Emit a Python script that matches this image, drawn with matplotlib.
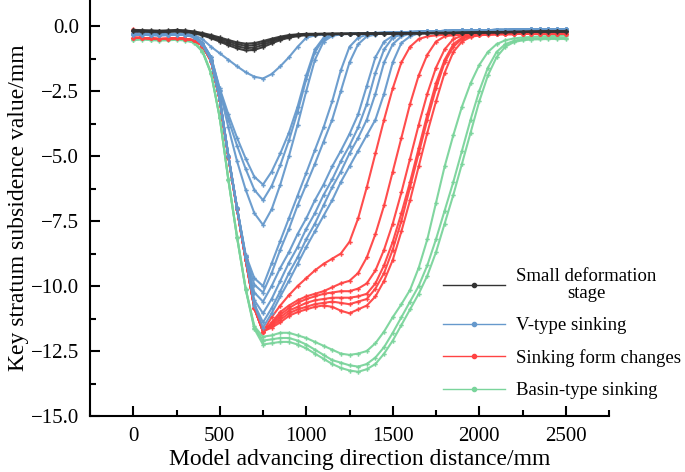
import numpy as np
import matplotlib
matplotlib.use("Agg")
from matplotlib import pyplot as plt
from matplotlib.lines import Line2D
from matplotlib.ticker import MultipleLocator

# distance along the model, mm (one reading every 50 mm)
dist = np.arange(0, 2501, 50)

# small deformation stage
black_1 = [-0.15, -0.16, -0.17, -0.18, -0.17, -0.15, -0.17, -0.21, -0.27, -0.35,
           -0.44, -0.54, -0.63, -0.68, -0.66, -0.58, -0.49, -0.41, -0.35, -0.32,
           -0.30, -0.30, -0.30, -0.29, -0.29, -0.29, -0.29, -0.28, -0.28, -0.28,
           -0.28, -0.28, -0.27, -0.27, -0.27, -0.26, -0.26, -0.26, -0.25, -0.25,
           -0.24, -0.24, -0.23, -0.23, -0.22, -0.22, -0.21, -0.21, -0.20, -0.20,
           -0.20]
black_2 = [-0.17, -0.18, -0.19, -0.20, -0.19, -0.17, -0.19, -0.23, -0.30, -0.39,
           -0.49, -0.60, -0.70, -0.76, -0.74, -0.65, -0.54, -0.45, -0.38, -0.34,
           -0.31, -0.31, -0.30, -0.30, -0.30, -0.30, -0.29, -0.29, -0.29, -0.29,
           -0.29, -0.28, -0.28, -0.28, -0.27, -0.27, -0.27, -0.26, -0.26, -0.25,
           -0.25, -0.24, -0.24, -0.23, -0.23, -0.22, -0.22, -0.21, -0.21, -0.21,
           -0.21]
black_3 = [-0.19, -0.20, -0.21, -0.22, -0.21, -0.19, -0.21, -0.25, -0.33, -0.43,
           -0.55, -0.67, -0.78, -0.85, -0.83, -0.73, -0.60, -0.49, -0.41, -0.36,
           -0.33, -0.32, -0.31, -0.31, -0.30, -0.30, -0.30, -0.30, -0.29, -0.29,
           -0.29, -0.29, -0.28, -0.28, -0.28, -0.27, -0.27, -0.27, -0.26, -0.26,
           -0.25, -0.25, -0.24, -0.24, -0.23, -0.23, -0.22, -0.22, -0.22, -0.21,
           -0.21]
black_4 = [-0.21, -0.22, -0.23, -0.24, -0.23, -0.21, -0.23, -0.28, -0.36, -0.47,
           -0.60, -0.74, -0.86, -0.94, -0.92, -0.81, -0.67, -0.54, -0.45, -0.39,
           -0.35, -0.33, -0.32, -0.32, -0.31, -0.31, -0.31, -0.30, -0.30, -0.30,
           -0.30, -0.29, -0.29, -0.29, -0.28, -0.28, -0.28, -0.27, -0.27, -0.26,
           -0.26, -0.25, -0.25, -0.24, -0.24, -0.23, -0.23, -0.22, -0.22, -0.22,
           -0.22]

# V-type sinking
blue_1 = [-0.28, -0.29, -0.31, -0.32, -0.31, -0.29, -0.31, -0.35, -0.50, -0.80,
          -1.05, -1.30, -1.55, -1.78, -1.95, -2.02, -1.85, -1.55, -1.20, -0.80,
          -0.45, -0.36, -0.33, -0.32, -0.31, -0.30, -0.29, -0.28, -0.27, -0.26,
          -0.25, -0.24, -0.23, -0.22, -0.21, -0.20, -0.19, -0.18, -0.17, -0.17,
          -0.16, -0.16, -0.15, -0.15, -0.14, -0.14, -0.13, -0.13, -0.12, -0.12,
          -0.12]
blue_2 = [-0.30, -0.31, -0.32, -0.33, -0.32, -0.30, -0.32, -0.38, -0.65, -1.20,
          -2.40, -3.40, -4.30, -5.10, -5.80, -6.10, -5.60, -4.90, -4.10, -3.10,
          -1.90, -0.90, -0.45, -0.34, -0.31, -0.30, -0.29, -0.28, -0.27, -0.26,
          -0.25, -0.24, -0.23, -0.22, -0.21, -0.20, -0.19, -0.18, -0.17, -0.17,
          -0.16, -0.16, -0.15, -0.15, -0.14, -0.14, -0.13, -0.13, -0.12, -0.12,
          -0.12]
blue_3 = [-0.30, -0.31, -0.32, -0.33, -0.32, -0.30, -0.32, -0.38, -0.65, -1.20,
          -2.45, -3.60, -4.60, -5.50, -6.30, -6.70, -6.15, -5.35, -4.40, -3.30,
          -2.05, -1.00, -0.50, -0.35, -0.31, -0.30, -0.29, -0.28, -0.27, -0.26,
          -0.25, -0.24, -0.23, -0.22, -0.21, -0.20, -0.19, -0.18, -0.17, -0.17,
          -0.16, -0.16, -0.15, -0.15, -0.14, -0.14, -0.13, -0.13, -0.12, -0.12,
          -0.12]
blue_4 = [-0.30, -0.31, -0.32, -0.33, -0.32, -0.30, -0.32, -0.38, -0.65, -1.20,
          -2.50, -3.90, -5.20, -6.30, -7.20, -7.65, -7.05, -6.10, -5.00, -3.80,
          -2.50, -1.30, -0.60, -0.38, -0.32, -0.30, -0.29, -0.28, -0.27, -0.26,
          -0.25, -0.24, -0.23, -0.22, -0.21, -0.20, -0.19, -0.18, -0.17, -0.17,
          -0.16, -0.16, -0.15, -0.15, -0.14, -0.14, -0.13, -0.13, -0.12, -0.12,
          -0.12]
blue_5 = [-0.31, -0.32, -0.33, -0.34, -0.33, -0.31, -0.33, -0.40, -0.70, -1.30,
          -2.80, -5.00, -7.00, -8.80, -9.70, -10.00, -9.13, -8.26, -7.39, -6.52,
          -5.65, -4.77, -3.90, -2.90, -1.70, -0.80, -0.45, -0.33, -0.28, -0.26,
          -0.25, -0.24, -0.23, -0.22, -0.21, -0.20, -0.19, -0.18, -0.17, -0.17,
          -0.16, -0.16, -0.15, -0.15, -0.14, -0.14, -0.13, -0.13, -0.12, -0.12,
          -0.12]
blue_6 = [-0.31, -0.32, -0.33, -0.34, -0.33, -0.31, -0.33, -0.40, -0.70, -1.30,
          -2.80, -5.00, -7.00, -8.85, -9.95, -10.25, -9.50, -8.60, -7.80, -6.90,
          -6.10, -5.30, -4.45, -3.60, -2.50, -1.40, -0.70, -0.40, -0.33, -0.27,
          -0.25, -0.24, -0.23, -0.22, -0.21, -0.20, -0.19, -0.18, -0.17, -0.17,
          -0.16, -0.16, -0.15, -0.15, -0.14, -0.14, -0.13, -0.13, -0.12, -0.12,
          -0.12]
blue_7 = [-0.32, -0.33, -0.34, -0.35, -0.34, -0.32, -0.34, -0.41, -0.70, -1.30,
          -2.80, -5.00, -7.00, -8.90, -10.25, -10.60, -10.00, -9.30, -8.70, -8.00,
          -7.40, -6.70, -6.10, -5.40, -4.80, -4.15, -3.40, -2.30, -1.20, -0.60,
          -0.38, -0.30, -0.26, -0.23, -0.21, -0.20, -0.19, -0.18, -0.17, -0.17,
          -0.16, -0.16, -0.15, -0.15, -0.14, -0.14, -0.13, -0.13, -0.12, -0.12,
          -0.12]
blue_8 = [-0.32, -0.33, -0.34, -0.35, -0.34, -0.32, -0.34, -0.41, -0.70, -1.30,
          -2.80, -5.00, -7.00, -8.90, -10.55, -11.05, -10.50, -9.80, -9.10, -8.50,
          -7.80, -7.20, -6.50, -5.90, -5.20, -4.60, -3.90, -3.00, -1.80, -0.90,
          -0.45, -0.33, -0.27, -0.23, -0.21, -0.20, -0.19, -0.18, -0.17, -0.17,
          -0.16, -0.16, -0.15, -0.15, -0.14, -0.14, -0.13, -0.13, -0.12, -0.12,
          -0.12]
blue_9 = [-0.33, -0.34, -0.35, -0.36, -0.35, -0.33, -0.35, -0.42, -0.70, -1.30,
          -2.80, -5.00, -7.00, -8.90, -10.70, -11.40, -10.85, -10.20, -9.50, -8.90,
          -8.20, -7.60, -6.90, -6.20, -5.60, -4.90, -4.30, -3.60, -2.60, -1.40,
          -0.70, -0.40, -0.29, -0.24, -0.21, -0.20, -0.19, -0.18, -0.17, -0.17,
          -0.16, -0.16, -0.15, -0.15, -0.14, -0.14, -0.13, -0.13, -0.12, -0.12,
          -0.12]
blue_10 = [-0.33, -0.34, -0.35, -0.36, -0.35, -0.33, -0.35, -0.42, -0.70, -1.30,
           -2.80, -5.00, -7.00, -8.90, -10.75, -11.60, -11.05, -10.40, -9.80, -9.15,
           -8.50, -7.90, -7.30, -6.70, -6.00, -5.40, -4.80, -4.20, -3.60, -2.60,
           -1.40, -0.65, -0.40, -0.28, -0.22, -0.20, -0.19, -0.18, -0.17, -0.17,
           -0.16, -0.16, -0.15, -0.15, -0.14, -0.14, -0.13, -0.13, -0.12, -0.12,
           -0.12]

# sinking form changes
red_1 = [-0.12, -0.46, -0.48, -0.50, -0.49, -0.47, -0.49, -0.55, -0.75, -1.35,
         -2.85, -5.05, -7.05, -9.00, -10.85, -11.75, -11.20, -10.75, -10.35, -10.00,
         -9.70, -9.40, -9.15, -8.95, -8.75, -8.30, -7.40, -6.20, -4.90, -3.60,
         -2.40, -1.40, -0.80, -0.50, -0.40, -0.36, -0.34, -0.34, -0.33, -0.33,
         -0.32, -0.32, -0.31, -0.31, -0.31, -0.30, -0.30, -0.30, -0.30, -0.30,
         -0.30]
red_2 = [-0.45, -0.46, -0.48, -0.50, -0.49, -0.47, -0.49, -0.55, -0.75, -1.35,
         -2.85, -5.05, -7.05, -9.00, -10.85, -11.75, -11.40, -11.00, -10.75, -10.55,
         -10.40, -10.30, -10.20, -10.05, -9.90, -9.80, -9.50, -8.90, -8.00, -6.90,
         -5.60, -4.30, -3.00, -1.90, -1.10, -0.60, -0.40, -0.35, -0.34, -0.33,
         -0.32, -0.32, -0.31, -0.31, -0.31, -0.30, -0.30, -0.30, -0.30, -0.30,
         -0.30]
red_3 = [-0.45, -0.46, -0.48, -0.50, -0.49, -0.47, -0.49, -0.55, -0.75, -1.35,
         -2.85, -5.05, -7.05, -9.00, -10.85, -11.75, -11.45, -11.10, -10.85, -10.65,
         -10.50, -10.40, -10.30, -10.25, -10.20, -10.20, -10.10, -9.90, -9.40, -8.60,
         -7.60, -6.40, -5.10, -3.80, -2.60, -1.60, -0.90, -0.50, -0.38, -0.35,
         -0.33, -0.32, -0.31, -0.31, -0.31, -0.30, -0.30, -0.30, -0.30, -0.30,
         -0.30]
red_4 = [-0.45, -0.46, -0.48, -0.50, -0.49, -0.47, -0.49, -0.55, -0.75, -1.35,
         -2.85, -5.05, -7.05, -9.00, -10.85, -11.75, -11.50, -11.20, -10.95, -10.80,
         -10.65, -10.55, -10.50, -10.45, -10.45, -10.45, -10.40, -10.30, -9.90, -9.20,
         -8.30, -7.20, -6.00, -4.70, -3.40, -2.20, -1.30, -0.70, -0.45, -0.37,
         -0.34, -0.32, -0.31, -0.31, -0.31, -0.30, -0.30, -0.30, -0.30, -0.30,
         -0.30]
red_5 = [-0.45, -0.46, -0.48, -0.50, -0.49, -0.47, -0.49, -0.55, -0.75, -1.35,
         -2.85, -5.05, -7.05, -9.00, -10.85, -11.75, -11.55, -11.30, -11.05, -10.90,
         -10.80, -10.70, -10.65, -10.60, -10.65, -10.70, -10.60, -10.50, -10.10, -9.50,
         -8.60, -7.50, -6.20, -4.90, -3.60, -2.40, -1.40, -0.80, -0.50, -0.38,
         -0.34, -0.32, -0.31, -0.31, -0.31, -0.30, -0.30, -0.30, -0.30, -0.30,
         -0.30]
red_6 = [-0.45, -0.46, -0.48, -0.50, -0.49, -0.47, -0.49, -0.55, -0.75, -1.35,
         -2.85, -5.05, -7.05, -9.00, -10.85, -11.75, -11.60, -11.40, -11.15, -11.00,
         -10.90, -10.80, -10.75, -10.80, -10.95, -11.05, -10.90, -10.75, -10.40, -9.80,
         -9.00, -7.90, -6.70, -5.40, -4.10, -2.90, -1.80, -1.00, -0.60, -0.42,
         -0.36, -0.33, -0.32, -0.31, -0.31, -0.30, -0.30, -0.30, -0.30, -0.30,
         -0.30]

# basin-type sinking
green_1 = [-0.50, -0.48, -0.50, -0.52, -0.51, -0.49, -0.52, -0.60, -0.95, -1.80,
           -3.50, -5.90, -8.10, -10.10, -11.55, -11.95, -11.90, -11.80, -11.80, -11.90,
           -12.00, -12.15, -12.30, -12.45, -12.60, -12.65, -12.60, -12.50, -12.20, -11.75,
           -11.20, -10.70, -10.15, -9.30, -8.20, -6.80, -5.40, -4.20, -3.10, -2.20,
           -1.50, -1.00, -0.70, -0.55, -0.48, -0.44, -0.42, -0.40, -0.39, -0.38,
           -0.37]
green_2 = [-0.52, -0.50, -0.52, -0.54, -0.53, -0.51, -0.54, -0.62, -0.97, -1.82,
           -3.52, -5.92, -8.12, -10.12, -11.60, -12.10, -12.05, -12.00, -12.00, -12.10,
           -12.25, -12.45, -12.65, -12.85, -12.95, -13.05, -13.10, -13.00, -12.75, -12.35,
           -11.80, -11.20, -10.60, -10.00, -9.20, -8.20, -7.10, -6.00, -4.80, -3.60,
           -2.50, -1.60, -1.00, -0.70, -0.57, -0.50, -0.48, -0.47, -0.46, -0.46,
           -0.45]
green_3 = [-0.54, -0.52, -0.54, -0.56, -0.55, -0.53, -0.56, -0.64, -0.99, -1.84,
           -3.54, -5.94, -8.14, -10.14, -11.65, -12.25, -12.20, -12.15, -12.15, -12.25,
           -12.40, -12.60, -12.80, -13.00, -13.15, -13.25, -13.30, -13.20, -13.00, -12.60,
           -12.10, -11.50, -10.90, -10.30, -9.60, -8.70, -7.60, -6.50, -5.30, -4.10,
           -2.90, -1.90, -1.20, -0.80, -0.62, -0.55, -0.52, -0.51, -0.50, -0.50,
           -0.50]

groups = [
    ("Small deformation\nstage", "#333333", [black_1, black_2, black_3, black_4]),
    ("V-type sinking", "#6699CC", [blue_1, blue_2, blue_3, blue_4, blue_5,
                                   blue_6, blue_7, blue_8, blue_9, blue_10]),
    ("Sinking form changes", "#FF4343", [red_1, red_2, red_3, red_4, red_5, red_6]),
    ("Basin-type sinking", "#7AD49B", [green_1, green_2, green_3]),
]

plt.rcParams['font.family'] = ['Liberation Serif', 'DejaVu Serif']

fig = plt.figure(figsize=(6.85, 4.72), dpi=100)
ax = fig.add_axes([90 / 685, 56 / 472, 519 / 685, 416 / 472])

# green underneath, black on top
for label, color, curves in reversed(groups):
    for y in curves:
        ax.plot(dist, y, color=color, lw=1.5, marker='P', ms=3.2,
                mew=0, alpha=0.95)

ax.set_xlim(-250, 2750)
ax.set_ylim(-15, 1.0)
ax.xaxis.set_major_locator(MultipleLocator(500))
ax.xaxis.set_minor_locator(MultipleLocator(250))
ax.yaxis.set_major_locator(MultipleLocator(2.5))
ax.yaxis.set_minor_locator(MultipleLocator(1.25))
ax.yaxis.set_major_formatter(lambda v, p: f"{v:.1f}".replace("-", "\u2212"))

for s in ['top', 'right']:
    ax.spines[s].set_visible(False)
for s in ['left', 'bottom']:
    ax.spines[s].set_linewidth(1.5)

ax.tick_params(which='major', direction='in', length=7, width=1.5, labelsize=15)
ax.tick_params(which='minor', direction='in', length=4, width=1.5)
ax.tick_params(axis='y', pad=8)
ax.tick_params(axis='x', pad=8)

ax.set_xlabel("Model advancing direction distance/mm", fontsize=17,
              labelpad=2, x=0.52)
ax.set_ylabel("Key stratum subsidence value/mm", fontsize=17, labelpad=1)

handles = [Line2D([], [], color=c, lw=1.0, marker='o', ms=3) for _, c, _ in groups]
leg = ax.legend(handles, [g[0] for g in groups], loc='lower left',
                bbox_to_anchor=(0.648, 0.0), frameon=False, fontsize=13.5,
                handlelength=3.3, handletextpad=0.6, labelspacing=0.8)
leg.get_texts()[0].set_multialignment('center')
leg.get_texts()[0].set_linespacing(1.0)

fig.savefig("out.png", dpi=100)
